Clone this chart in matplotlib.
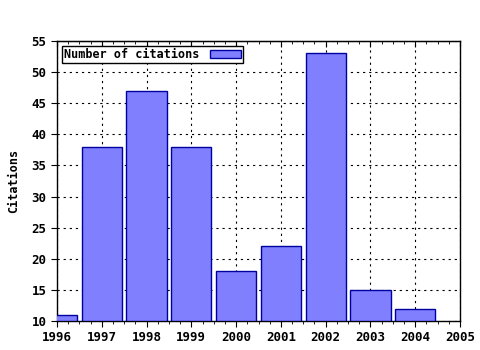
import matplotlib.pyplot as plt
from matplotlib.ticker import MultipleLocator

years = [1996, 1997, 1998, 1999, 2000, 2001, 2002, 2003, 2004]
citations = [11, 38, 47, 38, 18, 22, 53, 15, 12]
xticks = list(range(1996, 2006))
yticks = list(range(10, 56, 5))

plt.rcParams['font.family'] = ['DejaVu Sans Mono']
plt.rcParams['font.weight'] = 'bold'

fig = plt.figure(figsize=(4.8, 3.5), dpi=100)
ax = fig.add_axes([57 / 480, 1 - 321 / 350, 403 / 480, 280 / 350])

ax.bar(years, [c - 10 for c in citations], bottom=10, width=0.9,
       color='#8080ff', edgecolor='#0000a0', linewidth=1,
       label='Number of citations', zorder=3)

ax.set_xlim(1996, 2005)
ax.set_ylim(10, 55)
ax.set_xticks(xticks)
ax.set_yticks(yticks)
ax.xaxis.set_minor_locator(MultipleLocator(0.25))
ax.grid(True, color='black', linestyle=(0, (2, 3.5)), linewidth=0.8, zorder=1)

ax.tick_params(axis='x', which='both', direction='out', top=False, labelsize=9)
ax.tick_params(axis='x', which='major', length=4)
ax.tick_params(axis='x', which='minor', length=2)
ax.tick_params(axis='y', direction='out', length=4, labelsize=9)
for s in ax.spines.values():
    s.set_linewidth(1)
for lbl in ax.get_xticklabels() + ax.get_yticklabels():
    lbl.set_fontweight('bold')

# top tick marks pointing inward
ax2 = ax.secondary_xaxis('top')
ax2.set_xticks(xticks)
ax2.xaxis.set_minor_locator(MultipleLocator(0.25))
ax2.tick_params(which='both', direction='in', labeltop=False)
ax2.tick_params(which='major', length=4)
ax2.tick_params(which='minor', length=2)

ax.set_ylabel('Citations', fontsize=8.5, fontweight='bold', labelpad=8)

leg = ax.legend(loc='upper left', markerfirst=False, fancybox=False,
                framealpha=1, edgecolor='black', fontsize=8.5,
                borderpad=0.15, handlelength=2.6, handleheight=0.6,
                handletextpad=0.9, borderaxespad=0.45)
leg.get_frame().set_linewidth(1)
for t in leg.get_texts():
    t.set_fontweight('bold')

fig.savefig('out.png', dpi=100)
